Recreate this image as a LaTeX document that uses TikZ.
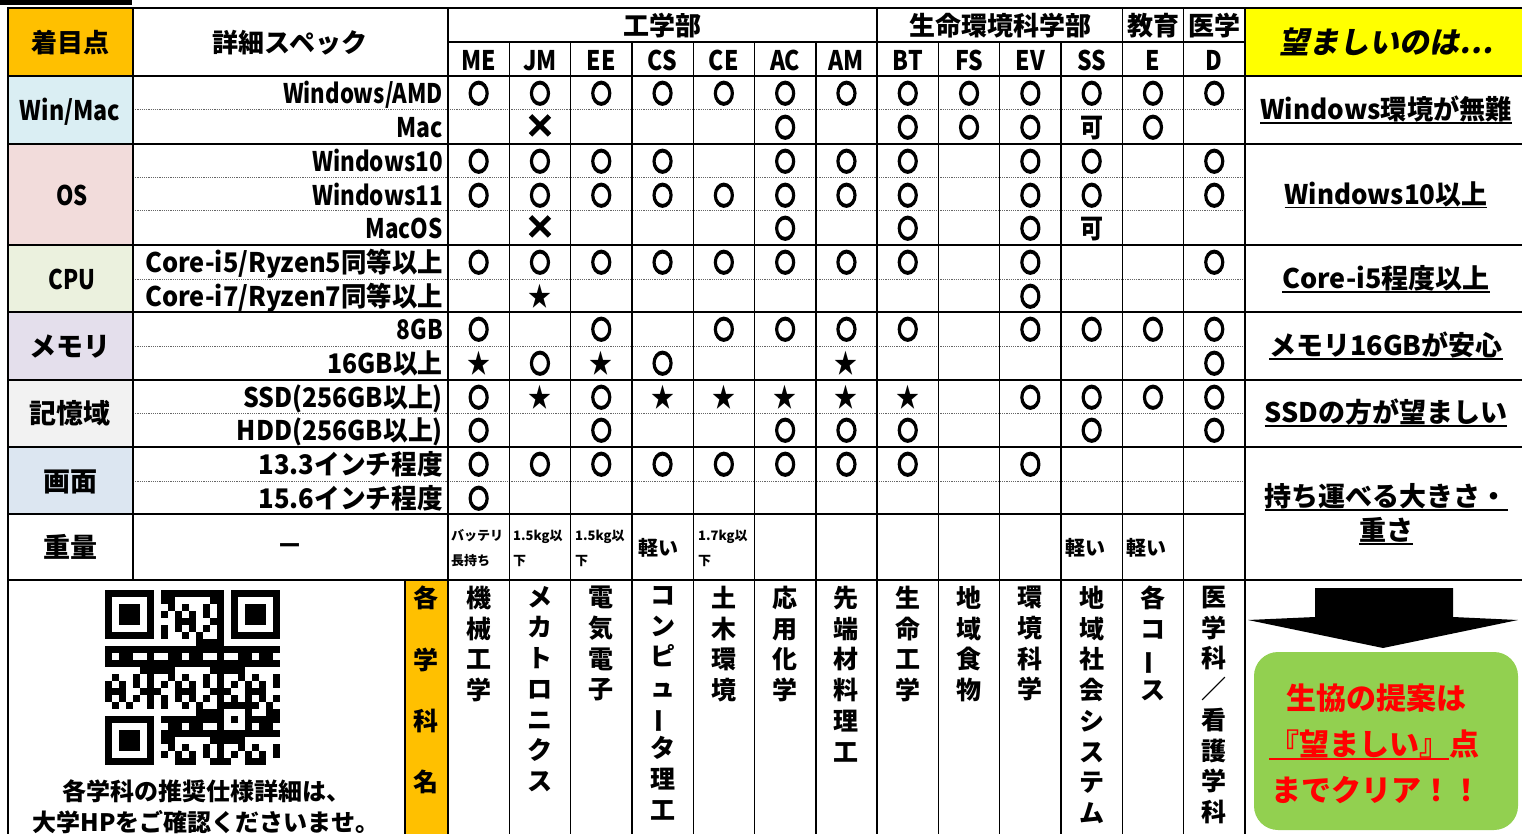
\documentclass[tikz,border=0pt]{standalone}
\usepackage{fontspec}
\usepackage{graphicx}
\setmainfont{Noto Sans CJK JP}
\newfontfamily\jpit{Noto Sans CJK JP}[FakeSlant=0.18]
\font\markOf="Noto Sans CJK JP/B:embolden=11" at 25pt
\font\markXf="Noto Sans CJK JP/B:embolden=4" at 31pt
\definecolor{hdrorange}{HTML}{FFC000}
\definecolor{hdryellow}{HTML}{FFFF00}
\definecolor{cwin}{HTML}{DAEEF3}
\definecolor{cos}{HTML}{F2DCDB}
\definecolor{ccpu}{HTML}{EBF1DE}
\definecolor{cmem}{HTML}{E4DFEC}
\definecolor{cstor}{HTML}{F2F2F2}
\definecolor{cscr}{HTML}{DCE6F1}
\definecolor{cgreen}{HTML}{92D050}
\definecolor{cred}{HTML}{FF0000}
\newcommand\setfs[2]{\fontsize{#1}{#2}\selectfont}
\newcommand\cond[1]{\scalebox{0.85}[1]{#1}}
\newcommand\sq[2]{\scalebox{#1}[1]{#2}}
\newcommand\myul[1]{\setbox0\hbox{#1}\rlap{\rule[-4pt]{\wd0}{1.8pt}}\box0}
\newcommand\redul[1]{\setbox0\hbox{#1}\rlap{\color{cred}\rule[-4pt]{\wd0}{1.8pt}}\box0}
\def\symO{\raisebox{0.5pt}{\scalebox{0.8}[1]{\markOf ○}}}
\def\symX{{\markXf ×}}
\def\symS{\scalebox{0.85}[1]{★}}
\def\symK{\scalebox{0.85}[1]{可}}
\def\symN{}
\begin{document}
\begin{tikzpicture}[x=1pt,y=-1pt,
  thinl/.style={line width=1.4pt},
  thickl/.style={line width=2.6pt},
  dotl/.style={draw=black!60, line width=1pt, dash pattern=on 1.1pt off 1.1pt},
  txt/.style={inner sep=0pt, font=\bfseries\setfs{27}{27}, text height=21pt, text depth=0.5pt},
  hdr/.style={txt, font=\bfseries\setfs{26}{26}},
  spec/.style={txt, anchor=east},
  cellmark/.style={txt},
  side/.style={inner sep=0pt, font=\bfseries\setfs{27}{34}, align=center},
  small/.style={inner sep=0pt, anchor=west, align=left, font=\bfseries\setfs{13}{25}},
  light/.style={inner sep=0pt, anchor=west, font=\bfseries\setfs{20}{20}},
  vname/.style={inner sep=0pt, anchor=north, align=center, font=\bfseries\setfs{25}{30.7}},
  redtxt/.style={inner sep=0pt, text=cred, font=\bfseries\setfs{30}{30}}
]
\useasboundingbox (0,0) rectangle (1522,834);
% top cut-off strip
\fill (0,0) rectangle (132,5);
% backgrounds
\fill[hdrorange] (8,8) rectangle (133,76);
\fill[hdryellow] (1245,8) rectangle (1522,76);
\fill[cwin] (8,76) rectangle (133,144);
\fill[cos] (8,144) rectangle (133,245);
\fill[ccpu] (8,245) rectangle (133,312);
\fill[cmem] (8,312) rectangle (133,380);
\fill[cstor] (8,380) rectangle (133,447);
\fill[cscr] (8,447) rectangle (133,514);
\fill[hdrorange] (405,580) rectangle (447,834);
% dotted lines
\foreach \yy in {110,178,211,279,346,413,481}
  \draw[dotl] (133,\yy) -- (1245,\yy);
% vertical lines
\foreach \k in {1,...,6,8,9,10}
  \draw[thinl] ({448+61.3*\k},42) -- ({448+61.3*\k},834);
\foreach \k in {7,11,12}
  \draw[thinl] ({448+61.3*\k},8) -- ({448+61.3*\k},834);
\draw[thinl] (133,8) -- (133,580);
\draw[thinl] (405,580) -- (405,834);
\draw[thickl] (448,8) -- (448,834);
\draw[thickl] (1245,8) -- (1245,834);
\draw[thickl] (8,8) -- (8,834);
% horizontal lines
\draw[thinl] (448,42) -- (1245,42);
\draw[thickl] (7,8) -- (1522,8);
\foreach \yy in {76,144,245,312,380,447,580}
  \draw[thickl] (7,\yy) -- (1522,\yy);
\draw[thickl] (7,514) -- (1245,514);
% header
\node[hdr] (hchaku) at (70,42) {着目点};
\node[hdr] (hshosai) at (290,42) {詳細スペック};
\node[hdr] (geng) at (662,25) {工学部};
\node[hdr] (glife) at (1000,25) {生命環境科学部};
\node[hdr] (gedu) at (1153,25) {教育};
\node[hdr] (gmed) at (1214,25) {医学};
\foreach \cd [count=\c] in {ME,JM,EE,CS,CE,AC,AM,BT,FS,EV,SS,E,D}
  \node[txt] (code\c) at ({448+61.3*(\c-0.5)},60) {\cond{\cd}};
\node[inner sep=0pt, font=\jpit\bfseries\setfs{30}{30}] (hbest) at (1386,42) {望ましいのは…};
% group labels
\node[txt] (gwin) at (70,110) {\sq{0.86}{Win/Mac}};
\node[txt] (gos) at (72,195) {\sq{0.82}{OS}};
\node[txt] (gcpu) at (72,279) {\sq{0.82}{CPU}};
\node[txt] (gmem) at (70,346) {メモリ};
\node[txt] (gstor) at (70,413) {記憶域};
\node[txt] (gscr) at (70,481) {画面};
\node[txt] (gwt) at (70,547) {重量};
% spec labels
\node[spec] (s1) at (443,93) {\sq{0.82}{Windows/AMD}};
\node[spec] (s2) at (443,127) {\sq{0.85}{Mac}};
\node[spec] (s3) at (443,161) {\sq{0.83}{Windows10}};
\node[spec] (s4) at (443,195) {\sq{0.83}{Windows11}};
\node[spec] (s5) at (443,228) {\sq{0.83}{MacOS}};
\node[spec] (s6) at (443,262) {\sq{0.94}{Core-i5/Ryzen5同等以上}};
\node[spec] (s7) at (443,296) {\sq{0.94}{Core-i7/Ryzen7同等以上}};
\node[spec] (s8) at (443,329) {\sq{0.84}{8GB}};
\node[spec] (s9) at (443,363) {\sq{0.92}{16GB以上}};
\node[spec] (s10) at (443,397) {\sq{0.92}{SSD(256GB以上)}};
\node[spec] (s11) at (443,430) {\sq{0.92}{HDD(256GB以上)}};
\node[spec] (s12) at (443,464) {\sq{0.95}{13.3インチ程度}};
\node[spec] (s13) at (443,498) {\sq{0.95}{15.6インチ程度}};
\node[txt] (s14) at (290,545) {－};
% marks
\foreach \r/\yy/\row in {
  1/93/{O,O,O,O,O,O,O,O,O,O,O,O,O},
  2/127/{N,X,N,N,N,O,N,O,O,O,K,O,N},
  3/161/{O,O,O,O,N,O,O,O,N,O,O,N,O},
  4/195/{O,O,O,O,O,O,O,O,N,O,O,N,O},
  5/228/{N,X,N,N,N,O,N,O,N,O,K,N,N},
  6/262/{O,O,O,O,O,O,O,O,N,O,N,N,O},
  7/296/{N,S,N,N,N,N,N,N,N,O,N,N,N},
  8/329/{O,N,O,N,O,O,O,O,N,O,O,O,O},
  9/363/{S,O,S,O,N,N,S,N,N,N,N,N,O},
  10/397/{O,S,O,S,S,S,S,S,N,O,O,O,O},
  11/430/{O,N,O,N,N,O,O,O,N,N,O,N,O},
  12/464/{O,O,O,O,O,O,O,O,N,O,N,N,N},
  13/498/{O,N,N,N,N,N,N,N,N,N,N,N,N}}
{
  \foreach \v [count=\c] in \row
    \node[cellmark] (m\r-\c) at ({448+61.3*(\c-0.5)},\yy) {\csname sym\v\endcsname};
}
% weight row
\node[small] (w1) at (451,548) {バッテリ\\長持ち};
\node[small] (w2) at (513,548) {1.5kg以\\下};
\node[small] (w3) at (575,548) {1.5kg以\\下};
\node[light] (w4) at (638,548) {軽い};
\node[small] (w5) at (698,548) {1.7kg以\\下};
\node[light] (w11) at (1065,548) {軽い};
\node[light] (w12) at (1126,548) {軽い};
% right column
\node[side] (r1) at (1386,110) {\myul{\sq{0.97}{Windows環境が無難}}};
\node[side] (r2) at (1386,195) {\myul{\sq{0.96}{Windows10以上}}};
\node[side] (r3) at (1386,279) {\myul{Core-i5程度以上}};
\node[side] (r4) at (1386,346) {\myul{メモリ16GBが安心}};
\node[side] (r5) at (1386,413) {\myul{SSDの方が望ましい}};
\node[side] (r6) at (1386,514) {\myul{持ち運べる大きさ・}\\\myul{重さ}};
% vertical department names
\node[vname, font=\bfseries\setfs{25}{61.3}] (kamei) at (426,586) {各\\学\\科\\名};
\foreach \t [count=\k] in {
  {機\\械\\工\\学},
  {メ\\カ\\ト\\ロ\\ニ\\ク\\ス},
  {電\\気\\電\\子},
  {コ\\ン\\ピ\\ュ\\\rotatebox[origin=c]{90}{ー}\\タ\\理\\工},
  {土\\木\\環\\境},
  {応\\用\\化\\学},
  {先\\端\\材\\料\\理\\工},
  {生\\命\\工\\学},
  {地\\域\\食\\物},
  {環\\境\\科\\学},
  {地\\域\\社\\会\\シ\\ス\\テ\\ム},
  {各\\コ\\\rotatebox[origin=c]{90}{ー}\\ス},
  {医\\学\\科\\／\\看\\護\\学\\科}}
  \node[vname] (dept\k) at ({448+61.3*(\k-0.5)},586) {\t};
% QR code
\begin{scope}[shift={(105,590)}, x=7pt, y=-7pt]
  \foreach \ox/\oy in {0/0,18/0,0/18} {
    \fill (\ox,\oy) rectangle ++(7,7);
    \fill[white] (\ox+1,\oy+1) rectangle ++(5,5);
    \fill (\ox+2,\oy+2) rectangle ++(3,3);
  }
  \fill (16,16) rectangle ++(5,5);
  \fill[white] (17,17) rectangle ++(3,3);
  \fill (18,18) rectangle ++(1,1);
  \foreach \i in {0,...,24} {
    \foreach \j in {0,...,24} {
      \pgfmathtruncatemacro\qrF{((\i<8)&&(\j<8)) || ((\i>16)&&(\j<8)) || ((\i<8)&&(\j>16)) || ((\i>15)&&(\i<21)&&(\j>15)&&(\j<21))}
      \pgfmathtruncatemacro\qrB{mod(\i*\i*3+\j*\j*5+\i*\j*7+\i*11+\j*13,10)<5}
      \ifnum\qrF=0 \ifnum\qrB=1 \fill (\i,\j) rectangle ++(1,1); \fi\fi
    }
  }
\end{scope}
\node[inner sep=0pt, font=\bfseries\setfs{24}{24}] (qrnote1) at (206,791) {各学科の推奨仕様詳細は、};
\node[inner sep=0pt, font=\bfseries\setfs{24}{24}] (qrnote2) at (206,822) {大学HPをご確認くださいませ。};
% arrow and proposal box
\fill (1315,588) -- (1453,588) -- (1453,617) -- (1518,620) -- (1383,648) -- (1248,620) -- (1315,617) -- cycle;
\node[fill=cgreen, rounded corners=24pt, minimum width=264pt, minimum height=178pt, inner sep=0pt] (prop) at (1386,741) {};
\node[redtxt] (p1) at (1376,698) {生協の提案は};
\node[redtxt] (p2) at (1374,745) {\redul{『望ましい』}点};
\node[redtxt] (p3) at (1376,790) {までクリア！！};
\end{tikzpicture}
\end{document}
